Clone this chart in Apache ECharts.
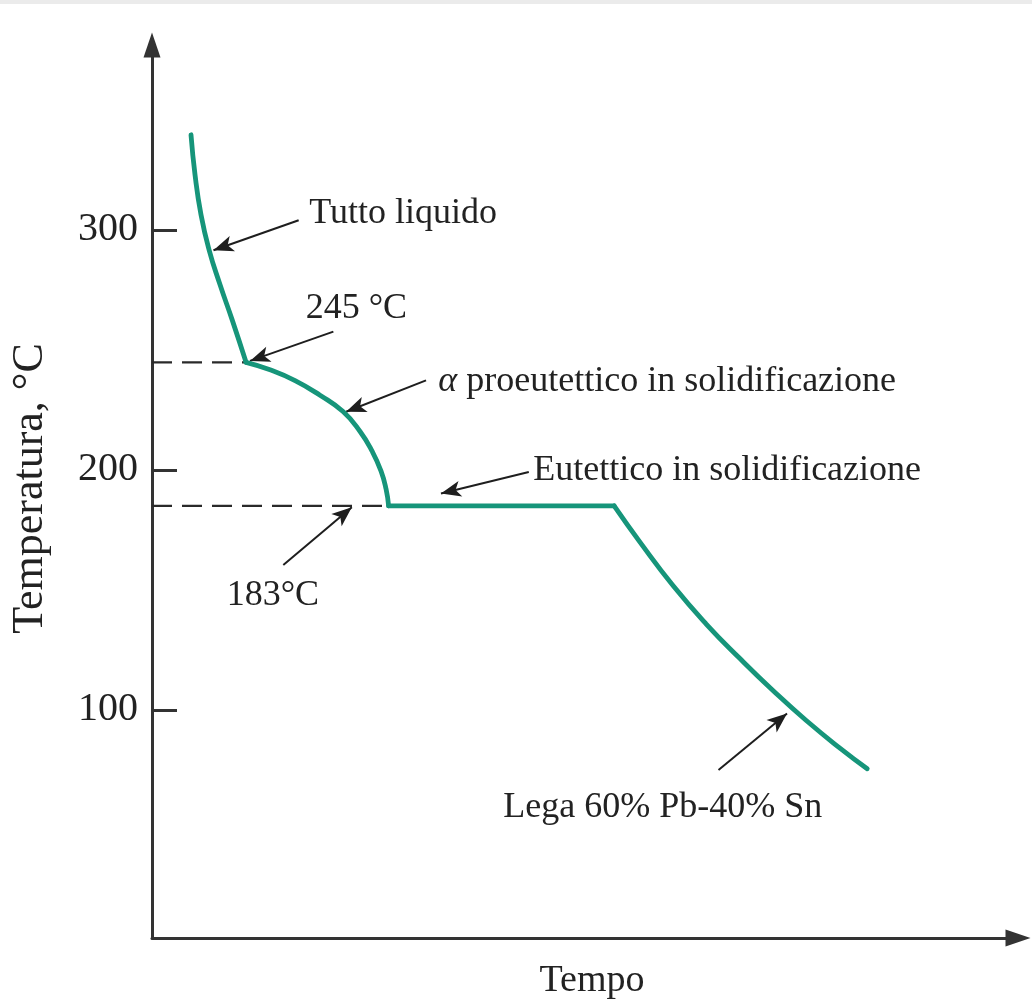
<!DOCTYPE html>
<html><head><meta charset="utf-8">
<script src="https://cdn.jsdelivr.net/npm/echarts@6/dist/echarts.min.js"></script>
<style>html,body{margin:0;padding:0;background:#fff}#c{width:1032px;height:1005px}</style>
</head><body><div id="c"></div>
<script>
// ---- data (time in arbitrary units, temperature in °C) ----
const yTickValues = [100, 200, 300];
const tLiquid = [4.44, 4.90, 5.58, 6.49, 7.74, 9.11, 10.71];
const TLiquid = [339.6, 322.9, 306.3, 291.8, 277.2, 262.7, 244.8];
const tAlpha = [10.71, 13.44, 16.29, 19.13, 21.75, 23.69, 25.06, 26.08, 26.65, 26.94];
const TAlpha = [244.8, 241.7, 237.2, 231.1, 224.3, 216.0, 207.8, 199.5, 192.0, 185.0];
const tEutectic = [26.94, 52.62];
const TEutectic = [185.0, 185.0];
const tSolid = [52.62, 55.58, 59.34, 63.10, 66.97, 70.73, 74.49, 78.36, 81.43];
const TSolid = [185.0, 169.8, 151.7, 135.8, 121.3, 108.0, 95.6, 84.0, 75.5];
const levelTemps = [244.8, 185.0];
const levelTimes = [10.71, 26.94];
const annotTexts = ['Tutto liquido', '245 °C', '{i|α} proeutettico in solidificazione',
  'Eutettico in solidificazione', '183°C', 'Lega 60% Pb-40% Sn'];
const annotAt = [[17.9, 306.7], [17.5, 267.3], [32.6, 236.9], [43.4, 199.9], [8.5, 147.6], [40.0, 59.4]];
const arrowFrom = [[16.7, 304], [20.65, 257.6], [31.2, 237.3], [42.9, 199.1], [14.95, 160.4], [64.5, 75.0]];
const arrowTo = [[7.0, 291.5], [11.16, 245.4], [22.1, 224.2], [32.9, 190.2], [22.75, 184.4], [72.3, 98.5]];

const zip = (a, b) => a.map((v, i) => [v, b[i]]);
const FONT = "'Liberation Serif', 'DejaVu Serif', serif";
const GREEN = '#16957a';
const INK = '#222222';

const curveStyle = { color: GREEN, width: 4.8, cap: 'round', join: 'round' };
function curve(name, t, T, smooth) {
  return { name, type: 'line', data: zip(t, T), showSymbol: false, symbol: 'none',
    smooth: smooth, lineStyle: curveStyle, silent: true, z: 5 };
}

const chart = echarts.init(document.getElementById('c'), null, { renderer: 'canvas' });
chart.setOption({
  animation: false,
  backgroundColor: '#ffffff',
  graphic: [{ type: 'rect', left: 0, top: 0, shape: { width: 1032, height: 4 }, style: { fill: '#ebebeb' } }],
  grid: { left: 152, right: 14, top: 45, bottom: 65 },
  xAxis: {
    type: 'value', min: 0, max: 98.6,
    name: 'Tempo', nameLocation: 'middle', nameGap: 24,
    nameTextStyle: { fontFamily: FONT, fontSize: 38, color: INK, padding: [0, 0, 0, 14] },
    axisLine: { show: true, symbol: ['none', 'triangle'], symbolSize: [17, 25], lineStyle: { color: '#333333', width: 3 } },
    axisTick: { show: false }, axisLabel: { show: false }, splitLine: { show: false }
  },
  yAxis: {
    type: 'value', min: 5, max: 377,
    name: 'Temperatura, °C', nameLocation: 'middle', nameGap: 100, nameRotate: 90,
    nameTextStyle: { fontFamily: FONT, fontSize: 44, color: INK, padding: [0, 0, 0, 6] },
    axisLine: { show: true, symbol: ['none', 'triangle'], symbolSize: [17, 25], lineStyle: { color: '#333333', width: 3 } },
    axisTick: { show: true, inside: true, length: 25, customValues: yTickValues, lineStyle: { color: '#333333', width: 3 } },
    axisLabel: { show: true, customValues: yTickValues, margin: 14, fontFamily: FONT, fontSize: 40, color: INK },
    splitLine: { show: false }
  },
  series: [
    { name: 'liv245', type: 'line', data: [[0, levelTemps[0]], [levelTimes[0], levelTemps[0]]], symbol: 'none',
      lineStyle: { color: '#2a2a2a', width: 2.2, type: [20, 10] }, silent: true, z: 3 },
    { name: 'liv185', type: 'line', data: [[0, levelTemps[1]], [levelTimes[1], levelTemps[1]]], symbol: 'none',
      lineStyle: { color: '#2a2a2a', width: 2.2, type: [20, 10] }, silent: true, z: 3 },
    curve('liquido', tLiquid, TLiquid, 0.5),
    curve('alfa', tAlpha, TAlpha, 0.5),
    curve('eutettico', tEutectic, TEutectic, false),
    curve('solido', tSolid, TSolid, 0.5),
    {
      name: 'annotazioni', type: 'scatter', symbolSize: 0, silent: true, z: 6,
      itemStyle: { opacity: 1 },
      data: annotAt.map((p, i) => ({ value: [p[0], p[1]], text: annotTexts[i] })),
      label: {
        show: true, position: 'right', distance: 0, opacity: 1,
        formatter: (p) => p.data.text,
        fontFamily: FONT, fontSize: 36, color: INK,
        rich: { i: { fontFamily: FONT, fontSize: 36, fontStyle: 'italic', color: INK } }
      },
      markLine: {
        silent: true, animation: false,
        symbol: ['none', 'arrow'], symbolSize: [12, 20],
        lineStyle: { color: '#1e1e1e', width: 2, type: 'solid', opacity: 1 },
        itemStyle: { color: '#1e1e1e' },
        label: { show: false },
        data: arrowFrom.map((f, i) => [{ coord: f }, { coord: arrowTo[i] }])
      }
    }
  ]
});
</script></body></html>
